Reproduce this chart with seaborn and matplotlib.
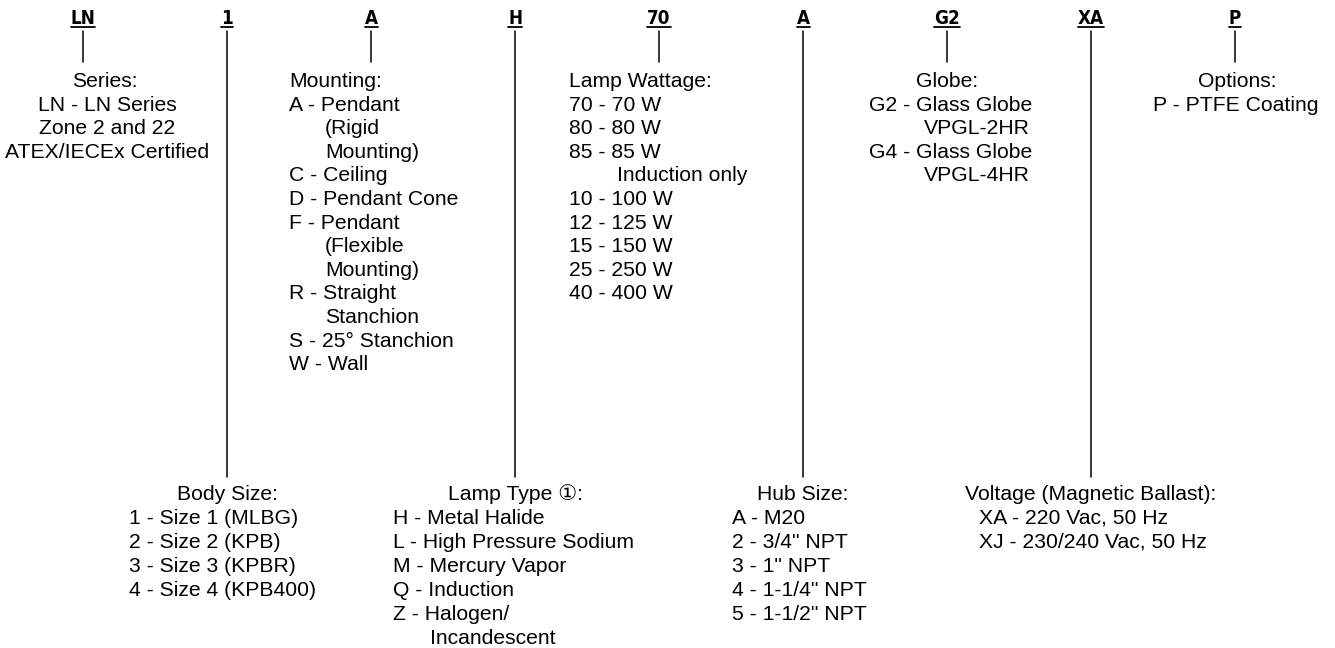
import matplotlib
matplotlib.use("Agg")
import matplotlib.pyplot as plt
import seaborn as sns
import pandas as pd
from matplotlib import font_manager

# ordering code segments, left to right
codes = ["LN", "1", "A", "H", "70", "A", "G2", "XA", "P"]
# which segments hang their description below (long connector)
below = [False, True, False, True, False, True, False, True, False]

# descriptions; a leading "\t" marks a continuation line (indented)
series_txt = ["Series:", "LN - LN Series", "Zone 2 and 22", "ATEX/IECEx Certified"]
body_txt = ["Body Size:", "1 - Size 1 (MLBG)", "2 - Size 2 (KPB)", "3 - Size 3 (KPBR)",
            "4 - Size 4 (KPB400)"]
mount_txt = ["Mounting:", "A - Pendant", "\t(Rigid", "\tMounting)", "C - Ceiling",
             "D - Pendant Cone", "F - Pendant", "\t(Flexible", "\tMounting)",
             "R - Straight", "\tStanchion", "S - 25° Stanchion", "W - Wall"]
lamp_txt = ["Lamp Type \u2460:", "H - Metal Halide", "L - High Pressure Sodium",
            "M - Mercury Vapor", "Q - Induction", "Z - Halogen/", "\tIncandescent"]
watt_txt = ["Lamp Wattage:", "70 - 70 W", "80 - 80 W", "85 - 85 W", "\tInduction only",
            "10 - 100 W", "12 - 125 W", "15 - 150 W", "25 - 250 W", "40 - 400 W"]
hub_txt = ["Hub Size:", "A - M20", '2 - 3/4" NPT', '3 - 1" NPT', '4 - 1-1/4" NPT',
           '5 - 1-1/2" NPT']
globe_txt = ["Globe:", "G2 - Glass Globe", "\tVPGL-2HR", "G4 - Glass Globe", "\tVPGL-4HR"]
volt_txt = ["Voltage (Magnetic Ballast):", "\tXA - 220 Vac, 50 Hz", "\tXJ - 230/240 Vac, 50 Hz"]
opt_txt = ["Options:", "P - PTFE Coating"]

sns.set_theme(style="white")
names = {f.name for f in font_manager.fontManager.ttflist}
main_font = ["Liberation Sans", "DejaVu Sans", "Noto Sans CJK JP"]
code_font = [n for n in ["Liberation Sans Narrow", "DejaVu Sans"] if n in names]
plt.rcParams["font.family"] = main_font

W, H = 1335, 648
fig = plt.figure(figsize=(W / 100, H / 100), dpi=100)
ax = fig.add_axes([0, 0, 1, 1])

x0, dx = 83, 144
xs = [x0 + dx * i for i in range(len(codes))]

# connectors
rows = []
for i, (x, b) in enumerate(zip(xs, below)):
    rows.append({"x": x, "y": 31, "u": i})
    rows.append({"x": x, "y": 477 if b else 62, "u": i})
seg = pd.DataFrame(rows)
sns.lineplot(data=seg, x="x", y="y", units="u", estimator=None, color="black",
             lw=1.1, sort=False, ax=ax, legend=False)
ax.set_xlim(0, W)
ax.set_ylim(H, 0)
ax.axis("off")

# code headers, underlined
fig.canvas.draw()
rend = fig.canvas.get_renderer()
for x, c in zip(xs, codes):
    t = ax.text(x, 24.5, c, ha="center", va="baseline", fontsize=13.5, fontweight="bold",
                family=code_font, fontstretch="condensed", color="black")
    bb = t.get_window_extent(rend).transformed(ax.transData.inverted())
    ax.plot([bb.x0, bb.x1], [27, 27], color="black", lw=1.3)

FS = 15.2


def block(lines, y, step, head_x, head_ha, left, indent, item_center=None):
    for k, s in enumerate(lines):
        yy = y + k * step
        if k == 0:
            ax.text(head_x, yy, s, ha=head_ha, va="baseline", fontsize=FS, color="black")
        elif item_center is not None:
            ax.text(item_center, yy, s, ha="center", va="baseline", fontsize=FS,
                    color="black")
        else:
            xx = left + indent if s.startswith("\t") else left
            ax.text(xx, yy, s.lstrip("\t"), ha="left", va="baseline", fontsize=FS,
                    color="black")


top_y, top_step = 87, 23.6
bot_y, bot_step = 500, 24

block(series_txt, top_y, top_step, 105, "center", 0, 0, item_center=107)
block(mount_txt, top_y, top_step, 289, "left", 289, 36)
block(watt_txt, top_y, top_step, 569, "left", 569, 48)
block(globe_txt, top_y, top_step, xs[6], "center", 869, 55)
block(opt_txt, top_y, top_step, 1237, "center", 0, 0, item_center=1236)

block(body_txt, bot_y, bot_step, xs[1], "center", 129, 0)
block(lamp_txt, bot_y, bot_step, xs[3], "center", 393, 37)
block(hub_txt, bot_y, bot_step, xs[5], "center", 732, 0)
block(volt_txt, bot_y, bot_step, xs[7], "center", 966, 13)

fig.savefig("out.png", dpi=100, facecolor="white")
